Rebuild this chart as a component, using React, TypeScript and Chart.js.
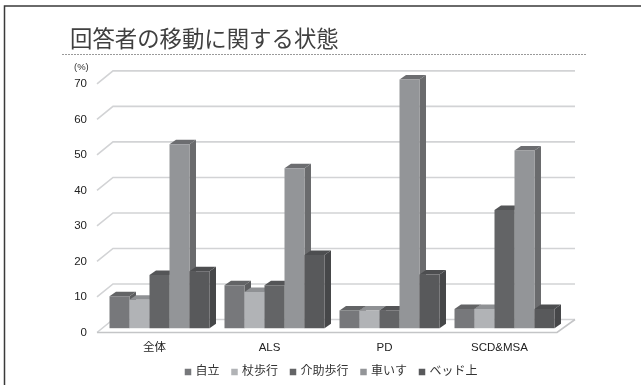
import React, { useEffect, useRef } from "react";
import { Chart, registerables } from "chart.js";

Chart.register(...registerables);

const categories = ["全体", "ALS", "PD", "SCD&MSA"];
const seriesNames = ["自立", "杖歩行", "介助歩行", "車いす", "ベッド上"];
const independent = [9, 12.1, 5, 5.4];
const withCane = [8, 10.2, 5, 5.4];
const assisted = [15, 12.1, 5, 33.3];
const wheelchair = [51.8, 45, 70, 50];
const bedridden = [16, 20.6, 15.1, 5.4];
const seriesValues = [independent, withCane, assisted, wheelchair, bedridden];

const frontColors = ["#77787b", "#b1b3b6", "#636466", "#939598", "#58595b"];
const topColors = ["#636466", "#8f9194", "#545557", "#6c6d70", "#4d4e50"];
const sideColors = ["#5c5d5f", "#88898c", "#4f5052", "#6a6b6d", "#464749"];

const FONT = '"Liberation Sans", "Noto Sans CJK JP", sans-serif';
const BAR_SHIFT_X = 5;
const BAR_SHIFT_Y = -4.3;
const BAR_DEPTH_X = 6.5;
const BAR_DEPTH_Y = 4.5;
const WALL_LEFT = 16;
const WALL_RIGHT = 18;
const WALL_RISE = 13;
const LEGEND_SHIFT_X = 18.5;
const LEGEND_SHIFT_Y = -10;

function polygon(ctx: CanvasRenderingContext2D, pts: number[][], fill: string) {
  ctx.beginPath();
  pts.forEach(([x, y], i) => (i ? ctx.lineTo(x, y) : ctx.moveTo(x, y)));
  ctx.closePath();
  ctx.fillStyle = fill;
  ctx.fill();
}

// Page frame, title rule, receding walls and the floor of the pseudo-3D plot.
const backdrop = {
  id: "backdrop",
  afterLayout(chart: any) {
    const legend = chart.legend;
    legend.left += LEGEND_SHIFT_X;
    legend.right += LEGEND_SHIFT_X;
    legend.top += LEGEND_SHIFT_Y;
    legend.bottom += LEGEND_SHIFT_Y;
  },
  beforeDatasetsDraw(chart: any) {
    const { ctx, chartArea: a, scales } = chart;
    const y = scales.y;
    ctx.save();
    ctx.strokeStyle = "#3a3a3a";
    ctx.lineWidth = 1.5;
    ctx.beginPath();
    ctx.moveTo(4.5, 385);
    ctx.lineTo(4.5, 6);
    ctx.lineTo(641, 6);
    ctx.stroke();

    ctx.strokeStyle = "#9a9a9a";
    ctx.lineWidth = 1;
    ctx.setLineDash([2, 1]);
    ctx.beginPath();
    ctx.moveTo(62, 54.5);
    ctx.lineTo(587, 54.5);
    ctx.stroke();
    ctx.setLineDash([]);

    ctx.strokeStyle = "#d2d3d5";
    ctx.lineWidth = 1.6;
    y.ticks.forEach((t: any) => {
      const py = y.getPixelForValue(t.value);
      ctx.beginPath();
      ctx.moveTo(a.left, py);
      ctx.lineTo(a.left + WALL_LEFT, py - WALL_RISE);
      ctx.lineTo(a.right + WALL_RIGHT, py - WALL_RISE);
      ctx.stroke();
    });
    const base = y.getPixelForValue(0);
    ctx.strokeStyle = "#c4c5c7";
    ctx.beginPath();
    ctx.moveTo(a.left, base);
    ctx.lineTo(a.right, base);
    ctx.lineTo(a.right + WALL_RIGHT, base - WALL_RISE);
    ctx.stroke();

    ctx.fillStyle = "#333333";
    ctx.font = `9.5px ${FONT}`;
    ctx.textAlign = "left";
    ctx.textBaseline = "middle";
    ctx.fillText("(%)", 74, 67.5);
    ctx.restore();
  },
};

// Bars are painted left to right within a group, each with a top and side face
// behind its own front face, so a nearer bar hides the neighbour's side.
const extruded = {
  id: "extruded",
  beforeDatasetDraw() {
    return false;
  },
  afterDatasetsDraw(chart: any) {
    const { ctx } = chart;
    ctx.save();
    ctx.translate(BAR_SHIFT_X, BAR_SHIFT_Y);
    seriesNames.forEach((_, i) => {
      const meta = chart.getDatasetMeta(i);
      meta.data.forEach((bar: any) => {
        const { x, y, base, width } = bar.getProps(["x", "y", "base", "width"], true);
        const l = x - width / 2;
        const r = x + width / 2;
        polygon(
          ctx,
          [
            [r, y],
            [r + BAR_DEPTH_X, y - BAR_DEPTH_Y],
            [r + BAR_DEPTH_X, base - BAR_DEPTH_Y],
            [r, base],
          ],
          sideColors[i]
        );
        polygon(
          ctx,
          [
            [l, y],
            [l + BAR_DEPTH_X, y - BAR_DEPTH_Y],
            [r + BAR_DEPTH_X, y - BAR_DEPTH_Y],
            [r, y],
          ],
          topColors[i]
        );
      });
      meta.controller.draw();
    });
    ctx.restore();
  },
};

export default function App() {
  const ref = useRef<HTMLCanvasElement>(null);
  useEffect(() => {
    document.body.style.margin = "0";
    const chart = new Chart(ref.current!, {
      type: "bar",
      data: {
        labels: categories,
        datasets: seriesNames.map((label, i) => ({
          label,
          data: seriesValues[i],
          backgroundColor: frontColors[i],
          borderWidth: 0,
          categoryPercentage: 100 / 115,
          barPercentage: 1,
        })),
      },
      options: {
        responsive: false,
        animation: false,
        layout: { padding: { left: 70, right: 84, top: 25, bottom: -13 } },
        plugins: {
          tooltip: { enabled: false },
          title: {
            display: true,
            text: "回答者の移動に関する状態",
            align: "start",
            color: "#404040",
            font: { family: '"Noto Sans CJK JP", sans-serif', size: 22.4, weight: "normal" },
            padding: { top: 0, bottom: 32 },
          },
          legend: {
            position: "bottom",
            labels: {
              boxWidth: 3,
              boxHeight: 6.5,
              usePointStyle: true,
              pointStyle: "rect",
              padding: 13.5,
              color: "#333333",
              font: { family: FONT, size: 12 },
            },
          },
        },
        scales: {
          x: {
            grid: { display: false },
            border: { display: false },
            ticks: {
              color: "#222222",
              padding: 0,
              maxRotation: 0,
              font: { family: FONT, size: 11.5 },
            },
            afterFit(s: any) {
              s.height = 30;
            },
          },
          y: {
            min: 0,
            max: 70,
            grid: { display: false, drawTicks: false },
            border: { display: false },
            ticks: {
              stepSize: 10,
              color: "#222222",
              padding: 10,
              font: { family: FONT, size: 11.5 },
            },
            afterFit(s: any) {
              s.width = 27;
            },
          },
        },
      },
      plugins: [backdrop, extruded],
    } as any);
    return () => chart.destroy();
  }, []);
  return <canvas ref={ref} width={641} height={385} style={{ display: "block" }} />;
}
